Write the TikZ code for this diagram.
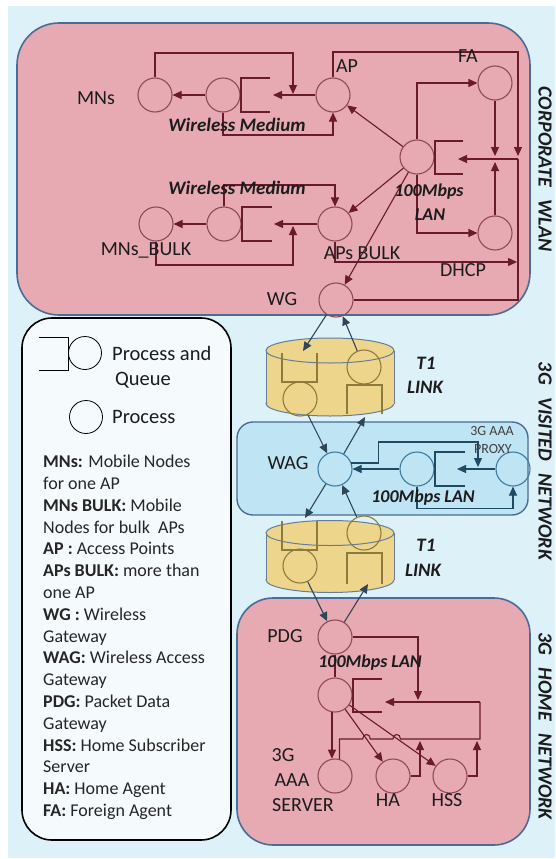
\documentclass[tikz,border=0pt]{standalone}
\usepackage{fontspec}
\setmainfont{Carlito}
\usetikzlibrary{arrows.meta,calc}
\definecolor{bgblue}{HTML}{DDF1F9}
\definecolor{pinkfill}{HTML}{E7A9B2}
\definecolor{boxborder}{HTML}{4A6C96}
\definecolor{bluefill}{HTML}{BFE4F4}
\definecolor{cylfill}{HTML}{EDD58C}
\definecolor{cylborder}{HTML}{667C98}
\definecolor{maroonln}{HTML}{6A1B2B}
\definecolor{circpink}{HTML}{8E4B57}
\definecolor{navyline}{HTML}{1F4A63}
\definecolor{circblue}{HTML}{3C7CA0}
\definecolor{oliveln}{HTML}{8C7B3A}
\definecolor{linkline}{HTML}{2E4656}
\definecolor{txt}{HTML}{1C1C1C}
\definecolor{legfill}{HTML}{F5FAFD}
\begin{document}
\begin{tikzpicture}[x=1pt,y=-1pt,
  every node/.style={text=txt},
  lbl/.style={font=\fontsize{20}{24}\selectfont, inner sep=0},
  smlbl/.style={font=\fontsize{14}{16}\selectfont, inner sep=0, text=black!75},
  bilbl/.style={font=\fontsize{19}{23}\selectfont\bfseries\itshape, inner sep=0},
  lanlbl/.style={font=\fontsize{18}{22}\selectfont\bfseries\itshape, inner sep=0},
  rotlbl/.style={font=\fontsize{20}{24}\selectfont\bfseries\itshape, inner sep=0, rotate=-90},
  pc/.style={circle, draw=circpink, line width=1.1pt, minimum size=34pt, inner sep=0},
  bc/.style={circle, draw=circblue, line width=1.1pt, minimum size=34pt, inner sep=0},
  oc/.style={circle, draw=oliveln, line width=1.1pt, minimum size=34pt, inner sep=0},
  lc/.style={circle, draw=black, line width=0.8pt, minimum size=33pt, inner sep=0},
  mline/.style={draw=maroonln, line width=1.1pt},
  marr/.style={mline, -{Triangle[length=9pt,width=8pt]}},
  bline/.style={draw=navyline, line width=1.1pt},
  barr/.style={bline, -{Triangle[length=9pt,width=8pt]}},
  oline/.style={draw=oliveln, line width=1.1pt},
  larr/.style={draw=linkline, line width=1.1pt, -{Triangle[length=9pt,width=8pt]}},
  cylb/.style={draw=cylborder, line width=1pt},
]
\useasboundingbox (0,0) rectangle (555,859);
\fill[white] (0,0) rectangle (555,859);
\fill[bgblue] (8,6) rectangle (555,858);

% region boxes
\draw[boxborder, line width=1.6pt, fill=pinkfill, rounded corners=42pt] (17,23) rectangle (530,315);
\draw[boxborder, line width=1.4pt, fill=bluefill, rounded corners=16pt] (237,422) rectangle (528,515);
\draw[boxborder, line width=1.6pt, fill=pinkfill, rounded corners=36pt] (237,598) rectangle (530,845);
\draw[black, line width=1.6pt, fill=legfill, rounded corners=30pt] (22,318) rectangle (231,840);

% cylinders
\fill[cylfill] (266,350.5) rectangle (394,403.5);
\draw[cylb, fill=cylfill] (330,403.5) ellipse [x radius=64pt, y radius=12.5pt];
\fill[cylfill] (266,350.5) rectangle (394,403.5);
\draw[cylb] (266,350.5) -- (266,403.5) (394,350.5) -- (394,403.5);
\draw[cylb, fill=cylfill] (330,350.5) ellipse [x radius=64pt, y radius=12.5pt];

\fill[cylfill] (266,533) rectangle (394,580);
\draw[cylb, fill=cylfill] (330,580) ellipse [x radius=64pt, y radius=12.5pt];
\fill[cylfill] (266,533) rectangle (394,580);
\draw[cylb] (266,533) -- (266,580) (394,533) -- (394,580);
\draw[cylb, fill=cylfill] (330,533) ellipse [x radius=64pt, y radius=12.5pt];

% ---------- corporate WLAN ----------
\node[pc] (mns) at (155,95) {};
\node[pc] (wm1) at (223,95) {};
\node[pc] (ap) at (333,95) {};
\node[pc] (mnsb) at (156,224) {};
\node[pc] (wm2) at (224,224) {};
\node[pc] (apsb) at (335,224) {};
\node[pc] (lan) at (417,157) {};
\node[pc] (fa) at (495,83) {};
\node[pc] (dhcp) at (495,233) {};
\node[pc] (wg) at (336,300) {};

\draw[mline] (270,78) -- (241,78) -- (241,112) -- (270,112);
\draw[mline] (272,207) -- (242,207) -- (242,241) -- (272,241);
\draw[mline] (463,141) -- (435,141) -- (435,174) -- (463,174);

\coordinate (q1in) at (273,95);
\coordinate (q2in) at (274,224);
\coordinate (busj) at (518,159);
\coordinate (q3in) at (458,159);

\draw[marr] (ap.west) -- (q1in);
\draw[marr] (wm1.west) -- (mns.east);
\draw[marr] (mns.north) -- (155,53) -- (293,53) -- (293,94);
\draw[marr] (wm1.south) -- (223,135) -| (ap.south);
\draw[marr] (ap.north) -- (333,52) -- (518,52) -- (518,156);
\draw[mline] (wg.east) -- (518,300) -- (busj);
\draw[marr] (busj) -- (q3in);
\draw[marr] (fa.south) -- (495,156);
\draw[marr] (dhcp.north) -- (495,162);
\draw[marr] (lan.north) |- (fa.west);
\draw[marr] (lan.south) |- (dhcp.west);
\draw[marr] (apsb.south) -- (335,262) -- (517,262);
\draw[marr] (lan) -- (ap);
\draw[marr] (lan) -- (apsb);
\draw[marr] (lan) -- (wg);

\draw[marr] (apsb.west) -- (q2in);
\draw[marr] (wm2.west) -- (mnsb.east);
\draw[marr] (wm2.north) -- (224,185) -| (apsb.north);
\draw[marr] (mnsb.south) -- (156,265) -- (293,265) -- (293,226);

\node[lbl] (lmns) at (96,98) {MNs};
\node[lbl] (lmnsb) at (146,250) {MNs\_BULK};
\node[lbl] (lap) at (347,66) {AP};
\node[lbl] (lapsb) at (362,253) {APs BULK};
\node[lbl] (lfa) at (468,56) {FA};
\node[lbl] (ldhcp) at (463,270) {DHCP};
\node[lbl] (lwg) at (282,299) {WG};
\node[bilbl] (wml1) at (237,125) {Wireless Medium};
\node[bilbl] (wml2) at (237,188) {Wireless Medium};
\node[lanlbl] (lan1) at (429,192) {100Mbps};
\node[lanlbl] (lan2) at (430,215) {LAN};

% ---------- T1 links ----------
\draw[oline] (282,353) -- (282,382) -- (317,382) -- (317,353);
\node[oc] (ca1) at (300,399) {};
\node[oc] (cb1) at (364,367) {};
\draw[oline] (347,414) -- (347,385) -- (382,385) -- (382,414);

\draw[oline] (282,521) -- (282,550) -- (317,550) -- (317,521);
\node[oc] (ca2) at (300,566) {};
\node[oc] (cb2) at (364,533) {};
\draw[oline] (347,584) -- (347,553) -- (382,553) -- (382,584);

\node[bilbl] (t1a) at (426,363) {T1};
\node[bilbl] (t1b) at (425,387) {LINK};
\node[bilbl] (t2a) at (426,545) {T1};
\node[bilbl] (t2b) at (423,570) {LINK};

% ---------- 3G visited ----------
\node[bc] (wag) at (335,469) {};
\node[bc] (wc) at (417,469) {};
\node[bc] (proxy) at (513,469) {};
\draw[bline] (465,452) -- (435,452) -- (435,486) -- (465,486);
\coordinate (q4in) at (457,469);
\draw[barr] (proxy.west) -- (q4in);
\draw[barr] (wc.west) -- (wag.east);
\draw[barr] (wag.20) -- ++(27,0) |- (478,442) -- (478,467);
\draw[barr] (wc.south) -- ++(0,22) -| (proxy.south);

\node[lbl] (lwag) at (288,463) {WAG};
\node[smlbl] (lpx1) at (492,431) {3G AAA};
\node[smlbl] (lpx2) at (493,449) {PROXY};
\node[lanlbl] (lan3) at (423,498) {100Mbps LAN};

% link arrows
\coordinate (q1top) at (303,351);
\coordinate (p1bot) at (365,417);
\coordinate (q2top) at (305,518);
\coordinate (p2bot) at (368,584);
\draw[larr] (wg) -- (q1top);
\draw[larr] (cb1) -- (wg);
\draw[larr] (ca1) -- (wag);
\draw[larr] (wag) -- (p1bot);
\draw[larr] (wag) -- (q2top);
\draw[larr] (cb2) -- (wag);

% ---------- 3G home ----------
\node[pc] (pdg) at (335,637) {};
\node[pc] (hl) at (335,695) {};
\node[pc] (aaa) at (335,776) {};
\node[pc] (ha) at (393,776) {};
\node[pc] (hss) at (450,776) {};
\draw[larr] (ca2) -- (pdg);
\draw[larr] (pdg) -- (p2bot);
\draw[mline] (pdg.south) -- (hl.north);
\draw[mline] (382,679) -- (353,679) -- (353,712) -- (382,712);
\draw[marr] (pdg.east) -- (418,637) -- (418,700);
\coordinate (busa) at (480,702);
\coordinate (q5in) at (385,702);
\draw[marr] (busa) -- (q5in);
\draw[mline] (busa) -- (480,739) -- (400.5,739) .. controls (400.5,733) and (392.9,733) .. (392.9,739)
   -- (370.3,739) .. controls (370.3,733) and (362.7,733) .. (362.7,739) -| (aaa.75);
\draw[marr] (hl.260) -- (aaa.100);
\draw[marr] (hl) -- (ha);
\draw[marr] (hl) -- (hss);
\draw[marr] (ha.east) -- (420,776) -- (420,741);
\draw[marr] (hss.east) -- (477,776) -- (477,741);

\node[lbl] (lpdg) at (285,636) {PDG};
\node[lanlbl] (lan4) at (370,663) {100Mbps LAN};
\node[lbl] (laaa1) at (283,755) {3G};
\node[lbl] (laaa2) at (292,780) {AAA};
\node[lbl] (laaa3) at (303,805) {SERVER};
\node[lbl] (lha) at (388,800) {HA};
\node[lbl] (lhss) at (447,800) {HSS};

% ---------- side labels ----------
\node[rotlbl] (rcorp) at (545,169) {CORPORATE\hspace{0.4em} WLAN};
\node[rotlbl] (rvis) at (545,461) {3G\hspace{0.4em} VISITED\hspace{0.4em} NETWORK};
\node[rotlbl] (rhome) at (545,726) {3G\hspace{0.4em} HOME\hspace{0.4em} NETWORK};

% ---------- legend ----------
\draw[black, line width=0.8pt] (39,337) -- (68,337) -- (68,370) -- (39,370);
\node[lc] (legq) at (85,353) {};
\node[lc] (legp) at (86,417) {};
\node[font=\fontsize{20.5}{24}\selectfont, anchor=west, inner sep=0] (legqt) at (112,353) {Process and};
\node[font=\fontsize{20.5}{24}\selectfont, inner sep=0] (legqt2) at (143,380) {Queue};
\node[font=\fontsize{20.5}{24}\selectfont, anchor=west, inner sep=0] (legpt) at (112,417) {Process};
\node[font=\fontsize{18}{21.8}\selectfont, anchor=north west, inner sep=0, align=left, text=black!85] (legtxt) at (43,455) {%
\textbf{MNs:} Mobile Nodes\\
for one AP\\
\textbf{MNs BULK:} Mobile\\
Nodes for bulk\ \ APs\\
\textbf{AP :} Access Points\\
\textbf{APs BULK:} more than\\
one AP\\
\textbf{WG :} Wireless\\
Gateway\\
\textbf{WAG:} Wireless Access\\
Gateway\\
\textbf{PDG:} Packet Data\\
Gateway\\
\textbf{HSS:} Home Subscriber\\
Server\\
\textbf{HA:} Home Agent\\
\textbf{FA:} Foreign Agent};
\end{tikzpicture}
\end{document}
